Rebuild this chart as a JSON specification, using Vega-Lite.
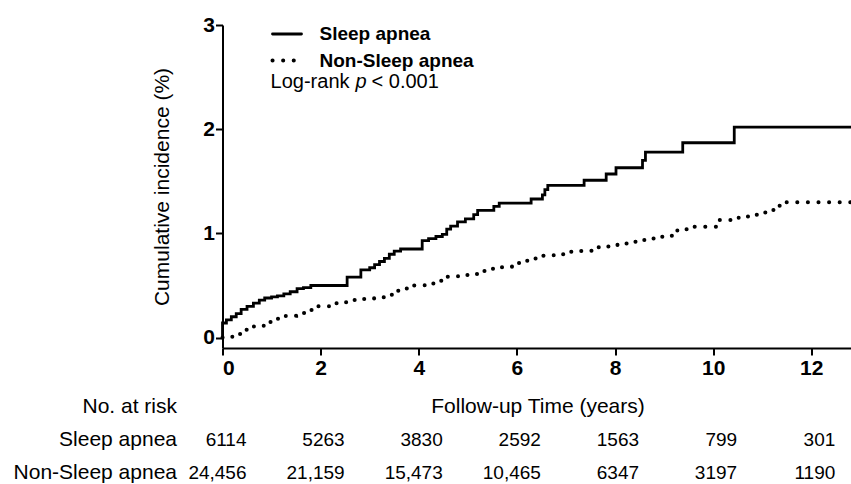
{
  "$schema": "https://vega.github.io/schema/vega-lite/v6.json",
  "padding": {"left": 12.5, "top": 14, "right": 0, "bottom": 0},
  "background": "white",
  "spacing": 12,
  "datasets": {
    "curves": [
      {"group": "Sleep apnea", "i": 0, "t": 0, "cum": 0},
      {"group": "Sleep apnea", "i": 1, "t": 0, "cum": 0.14},
      {"group": "Sleep apnea", "i": 2, "t": 0.08, "cum": 0.17},
      {"group": "Sleep apnea", "i": 3, "t": 0.18, "cum": 0.2},
      {"group": "Sleep apnea", "i": 4, "t": 0.28, "cum": 0.23},
      {"group": "Sleep apnea", "i": 5, "t": 0.38, "cum": 0.27},
      {"group": "Sleep apnea", "i": 6, "t": 0.5, "cum": 0.3},
      {"group": "Sleep apnea", "i": 7, "t": 0.63, "cum": 0.33},
      {"group": "Sleep apnea", "i": 8, "t": 0.75, "cum": 0.36},
      {"group": "Sleep apnea", "i": 9, "t": 0.86, "cum": 0.38},
      {"group": "Sleep apnea", "i": 10, "t": 1.0, "cum": 0.39},
      {"group": "Sleep apnea", "i": 11, "t": 1.12, "cum": 0.4},
      {"group": "Sleep apnea", "i": 12, "t": 1.25, "cum": 0.42},
      {"group": "Sleep apnea", "i": 13, "t": 1.38, "cum": 0.44},
      {"group": "Sleep apnea", "i": 14, "t": 1.52, "cum": 0.47},
      {"group": "Sleep apnea", "i": 15, "t": 1.65, "cum": 0.48},
      {"group": "Sleep apnea", "i": 16, "t": 1.8, "cum": 0.5},
      {"group": "Sleep apnea", "i": 17, "t": 2.54, "cum": 0.58},
      {"group": "Sleep apnea", "i": 18, "t": 2.82, "cum": 0.65},
      {"group": "Sleep apnea", "i": 19, "t": 3.0, "cum": 0.67},
      {"group": "Sleep apnea", "i": 20, "t": 3.1, "cum": 0.7},
      {"group": "Sleep apnea", "i": 21, "t": 3.2, "cum": 0.73},
      {"group": "Sleep apnea", "i": 22, "t": 3.3, "cum": 0.76},
      {"group": "Sleep apnea", "i": 23, "t": 3.4, "cum": 0.8},
      {"group": "Sleep apnea", "i": 24, "t": 3.5, "cum": 0.83},
      {"group": "Sleep apnea", "i": 25, "t": 3.63, "cum": 0.85},
      {"group": "Sleep apnea", "i": 26, "t": 4.07, "cum": 0.93},
      {"group": "Sleep apnea", "i": 27, "t": 4.2, "cum": 0.95},
      {"group": "Sleep apnea", "i": 28, "t": 4.35, "cum": 0.97},
      {"group": "Sleep apnea", "i": 29, "t": 4.48, "cum": 0.99},
      {"group": "Sleep apnea", "i": 30, "t": 4.57, "cum": 1.04},
      {"group": "Sleep apnea", "i": 31, "t": 4.65, "cum": 1.07},
      {"group": "Sleep apnea", "i": 32, "t": 4.79, "cum": 1.11},
      {"group": "Sleep apnea", "i": 33, "t": 4.95, "cum": 1.14},
      {"group": "Sleep apnea", "i": 34, "t": 5.12, "cum": 1.18},
      {"group": "Sleep apnea", "i": 35, "t": 5.2, "cum": 1.22},
      {"group": "Sleep apnea", "i": 36, "t": 5.53, "cum": 1.26},
      {"group": "Sleep apnea", "i": 37, "t": 5.64, "cum": 1.29},
      {"group": "Sleep apnea", "i": 38, "t": 6.29, "cum": 1.33},
      {"group": "Sleep apnea", "i": 39, "t": 6.52, "cum": 1.37},
      {"group": "Sleep apnea", "i": 40, "t": 6.57, "cum": 1.42},
      {"group": "Sleep apnea", "i": 41, "t": 6.63, "cum": 1.46},
      {"group": "Sleep apnea", "i": 42, "t": 7.37, "cum": 1.51},
      {"group": "Sleep apnea", "i": 43, "t": 7.82, "cum": 1.57},
      {"group": "Sleep apnea", "i": 44, "t": 8.02, "cum": 1.63},
      {"group": "Sleep apnea", "i": 45, "t": 8.56, "cum": 1.7},
      {"group": "Sleep apnea", "i": 46, "t": 8.62, "cum": 1.78},
      {"group": "Sleep apnea", "i": 47, "t": 9.38, "cum": 1.87},
      {"group": "Sleep apnea", "i": 48, "t": 10.43, "cum": 2.02},
      {"group": "Sleep apnea", "i": 49, "t": 12.84, "cum": 2.02},
      {"group": "Non-Sleep apnea", "i": 0, "t": 0, "cum": 0},
      {"group": "Non-Sleep apnea", "i": 1, "t": 0.2, "cum": 0.035},
      {"group": "Non-Sleep apnea", "i": 2, "t": 0.43, "cum": 0.074},
      {"group": "Non-Sleep apnea", "i": 3, "t": 0.64, "cum": 0.11},
      {"group": "Non-Sleep apnea", "i": 4, "t": 0.84, "cum": 0.15},
      {"group": "Non-Sleep apnea", "i": 5, "t": 1.08, "cum": 0.18},
      {"group": "Non-Sleep apnea", "i": 6, "t": 1.29, "cum": 0.21},
      {"group": "Non-Sleep apnea", "i": 7, "t": 1.5, "cum": 0.235},
      {"group": "Non-Sleep apnea", "i": 8, "t": 1.73, "cum": 0.265},
      {"group": "Non-Sleep apnea", "i": 9, "t": 1.93, "cum": 0.3},
      {"group": "Non-Sleep apnea", "i": 10, "t": 2.17, "cum": 0.33},
      {"group": "Non-Sleep apnea", "i": 11, "t": 2.41, "cum": 0.34},
      {"group": "Non-Sleep apnea", "i": 12, "t": 2.61, "cum": 0.36},
      {"group": "Non-Sleep apnea", "i": 13, "t": 2.85, "cum": 0.37},
      {"group": "Non-Sleep apnea", "i": 14, "t": 3.09, "cum": 0.386},
      {"group": "Non-Sleep apnea", "i": 15, "t": 3.3, "cum": 0.41},
      {"group": "Non-Sleep apnea", "i": 16, "t": 3.5, "cum": 0.45},
      {"group": "Non-Sleep apnea", "i": 17, "t": 3.7, "cum": 0.47},
      {"group": "Non-Sleep apnea", "i": 18, "t": 3.9, "cum": 0.5},
      {"group": "Non-Sleep apnea", "i": 19, "t": 4.12, "cum": 0.52},
      {"group": "Non-Sleep apnea", "i": 20, "t": 4.35, "cum": 0.546},
      {"group": "Non-Sleep apnea", "i": 21, "t": 4.55, "cum": 0.585},
      {"group": "Non-Sleep apnea", "i": 22, "t": 4.8, "cum": 0.6},
      {"group": "Non-Sleep apnea", "i": 23, "t": 5.05, "cum": 0.61},
      {"group": "Non-Sleep apnea", "i": 24, "t": 5.27, "cum": 0.64},
      {"group": "Non-Sleep apnea", "i": 25, "t": 5.47, "cum": 0.66},
      {"group": "Non-Sleep apnea", "i": 26, "t": 5.67, "cum": 0.675},
      {"group": "Non-Sleep apnea", "i": 27, "t": 5.9, "cum": 0.715},
      {"group": "Non-Sleep apnea", "i": 28, "t": 6.08, "cum": 0.738},
      {"group": "Non-Sleep apnea", "i": 29, "t": 6.3, "cum": 0.76},
      {"group": "Non-Sleep apnea", "i": 30, "t": 6.52, "cum": 0.786},
      {"group": "Non-Sleep apnea", "i": 31, "t": 6.75, "cum": 0.8},
      {"group": "Non-Sleep apnea", "i": 32, "t": 6.97, "cum": 0.824},
      {"group": "Non-Sleep apnea", "i": 33, "t": 7.2, "cum": 0.83},
      {"group": "Non-Sleep apnea", "i": 34, "t": 7.41, "cum": 0.834},
      {"group": "Non-Sleep apnea", "i": 35, "t": 7.65, "cum": 0.866},
      {"group": "Non-Sleep apnea", "i": 36, "t": 7.85, "cum": 0.875},
      {"group": "Non-Sleep apnea", "i": 37, "t": 8.05, "cum": 0.904},
      {"group": "Non-Sleep apnea", "i": 38, "t": 8.25, "cum": 0.92},
      {"group": "Non-Sleep apnea", "i": 39, "t": 8.46, "cum": 0.937},
      {"group": "Non-Sleep apnea", "i": 40, "t": 8.7, "cum": 0.95},
      {"group": "Non-Sleep apnea", "i": 41, "t": 8.92, "cum": 0.968},
      {"group": "Non-Sleep apnea", "i": 42, "t": 9.14, "cum": 0.978},
      {"group": "Non-Sleep apnea", "i": 43, "t": 9.27, "cum": 1.04},
      {"group": "Non-Sleep apnea", "i": 44, "t": 9.47, "cum": 1.064},
      {"group": "Non-Sleep apnea", "i": 45, "t": 10.1, "cum": 1.128},
      {"group": "Non-Sleep apnea", "i": 46, "t": 10.52, "cum": 1.163},
      {"group": "Non-Sleep apnea", "i": 47, "t": 10.75, "cum": 1.18},
      {"group": "Non-Sleep apnea", "i": 48, "t": 10.95, "cum": 1.2},
      {"group": "Non-Sleep apnea", "i": 49, "t": 11.15, "cum": 1.224},
      {"group": "Non-Sleep apnea", "i": 50, "t": 11.32, "cum": 1.266},
      {"group": "Non-Sleep apnea", "i": 51, "t": 11.49, "cum": 1.3},
      {"group": "Non-Sleep apnea", "i": 52, "t": 12.84, "cum": 1.3}
    ],
    "risk": [
      {"row": "Sleep apnea", "t": 0, "n": "6114"},
      {"row": "Sleep apnea", "t": 2, "n": "5263"},
      {"row": "Sleep apnea", "t": 4, "n": "3830"},
      {"row": "Sleep apnea", "t": 6, "n": "2592"},
      {"row": "Sleep apnea", "t": 8, "n": "1563"},
      {"row": "Sleep apnea", "t": 10, "n": "799"},
      {"row": "Sleep apnea", "t": 12, "n": "301"},
      {"row": "Non-Sleep apnea", "t": 0, "n": "24,456"},
      {"row": "Non-Sleep apnea", "t": 2, "n": "21,159"},
      {"row": "Non-Sleep apnea", "t": 4, "n": "15,473"},
      {"row": "Non-Sleep apnea", "t": 6, "n": "10,465"},
      {"row": "Non-Sleep apnea", "t": 8, "n": "6347"},
      {"row": "Non-Sleep apnea", "t": 10, "n": "3197"},
      {"row": "Non-Sleep apnea", "t": 12, "n": "1190"}
    ]
  },
  "vconcat": [
    {
      "width": 630,
      "height": 323,
      "layer": [
        {
          "data": {"name": "curves"},
          "mark": {"type": "line", "interpolate": "step-after", "strokeCap": "round", "color": "black"},
          "encoding": {
            "x": {"field": "t", "type": "quantitative", "scale": {"domain": [0, 12.84], "nice": false, "zero": false},
                  "axis": {"values": [0, 2, 4, 6, 8, 10, 12], "title": null, "labelPadding": 2}},
            "y": {"field": "cum", "type": "quantitative", "scale": {"domain": [-0.1, 3], "nice": false, "zero": false},
                  "axis": {"values": [0, 1, 2, 3], "format": "d", "title": "Cumulative incidence (%)", "titlePadding": 30, "labelPadding": 1}},
            "order": {"field": "i", "type": "quantitative"},
            "strokeDash": {"field": "group", "type": "nominal",
                           "scale": {"domain": ["Sleep apnea", "Non-Sleep apnea"], "range": [[1, 0], [0.1, 10.5]]},
                           "legend": {"title": null, "orient": "none", "legendX": 48, "legendY": -7, "padding": 0,
                                      "symbolType": "stroke", "symbolSize": 841, "symbolStrokeWidth": 3,
                                      "symbolStrokeColor": "black", "labelFont": "Liberation Sans", "labelFontSize": 19,
                                      "labelFontWeight": "bold", "labelColor": "black", "labelOffset": 16, "rowPadding": -9,
                                      "encode": {"symbols": {"update": {"strokeCap": {"value": "round"}}}}}},
            "strokeWidth": {"field": "group", "type": "nominal",
                            "scale": {"domain": ["Sleep apnea", "Non-Sleep apnea"], "range": [2.8, 4]},
                            "legend": null}
          }
        },
        {
          "data": {"values": [{}]},
          "mark": {"type": "text", "text": "Log-rank", "align": "left", "baseline": "alphabetic", "fontSize": 20, "font": "Liberation Sans", "color": "black"},
          "encoding": {"x": {"datum": 0.98}, "y": {"datum": 2.4}}
        },
        {
          "data": {"values": [{}]},
          "mark": {"type": "text", "text": "p", "align": "left", "baseline": "alphabetic", "fontSize": 20, "fontStyle": "italic", "font": "Liberation Sans", "color": "black", "dx": 85},
          "encoding": {"x": {"datum": 0.98}, "y": {"datum": 2.4}}
        },
        {
          "data": {"values": [{}]},
          "mark": {"type": "text", "text": "< 0.001", "align": "left", "baseline": "alphabetic", "fontSize": 20, "font": "Liberation Sans", "color": "black", "dx": 101},
          "encoding": {"x": {"datum": 0.98}, "y": {"datum": 2.4}}
        }
      ]
    },
    {
      "width": 630,
      "height": 99,
      "data": {"name": "risk"},
      "mark": {"type": "text", "fontSize": 19, "font": "Liberation Sans", "color": "black", "align": "right", "dx": 24},
      "encoding": {
        "x": {"field": "t", "type": "quantitative", "scale": {"domain": [0, 12.84], "nice": false, "zero": false},
              "axis": {"orient": "top", "title": "Follow-up Time (years)", "labels": false, "ticks": false, "domain": false,
                       "titleY": 16.5, "titleBaseline": "middle", "titleFontSize": 21, "titleFontWeight": "normal"}},
        "y": {"field": "row", "type": "nominal", "scale": {"domain": ["No. at risk", "Sleep apnea", "Non-Sleep apnea"]},
              "axis": {"title": null, "ticks": false, "domain": false, "labelPadding": 46, "labelFontSize": 21, "labelFontWeight": "normal"}},
        "text": {"field": "n", "type": "nominal"}
      }
    }
  ],
  "resolve": {"scale": {"x": "independent"}},
  "config": {
    "view": {"stroke": null},
    "font": "Liberation Sans",
    "axis": {
      "grid": false,
      "domainColor": "black",
      "domainWidth": 2,
      "tickColor": "black",
      "tickWidth": 2,
      "tickSize": 7,
      "labelFont": "Liberation Sans",
      "labelFontSize": 21,
      "labelFontWeight": "bold",
      "labelColor": "black",
      "titleFont": "Liberation Sans",
      "titleFontSize": 21,
      "titleFontWeight": "normal",
      "titleColor": "black"
    }
  }
}
